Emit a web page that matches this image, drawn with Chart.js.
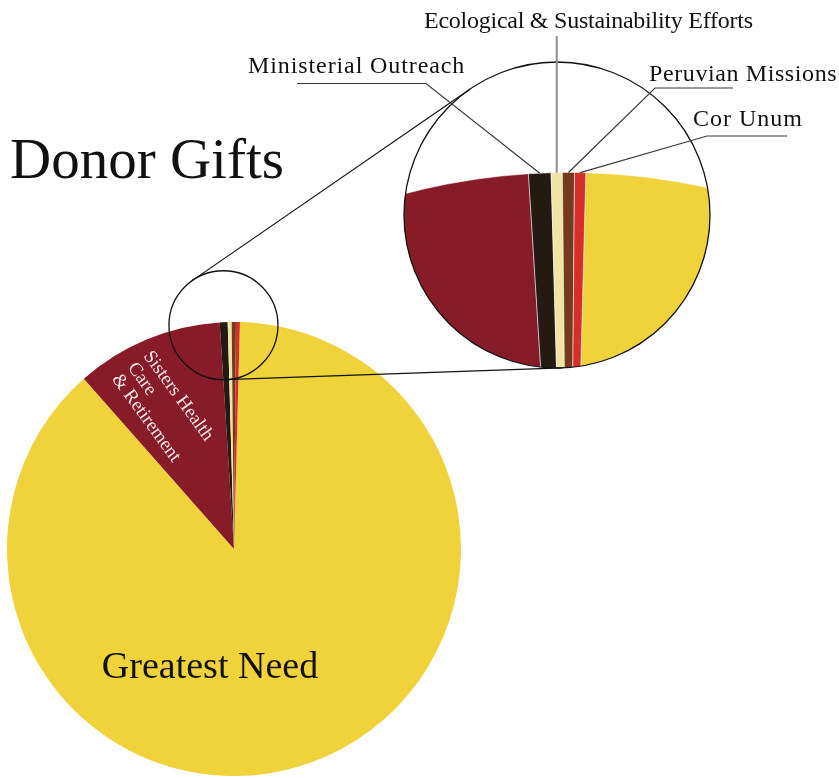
<!DOCTYPE html>
<html>
<head>
<meta charset="utf-8">
<script src="https://cdn.jsdelivr.net/npm/chart.js@4"></script>
<style>
  html, body { margin: 0; padding: 0; background: #fff; overflow: hidden; }
  #page { position: relative; width: 839px; height: 778px; overflow: hidden; }
  #mainChart { position: absolute; left: 0; top: 0; z-index: 2; }
  #zoomChart { position: absolute; left: -81px; top: 166px; z-index: 1;
               clip-path: circle(153px at 638px 49px); }
</style>
</head>
<body>
<div id="page">
  <canvas id="zoomChart" width="1300" height="1300"></canvas>
  <canvas id="mainChart" width="839" height="778"></canvas>
</div>
<script>
// share of donor gifts, in percent
const categories = ['Greatest Need', 'Sisters Health Care & Retirement', 'Ministerial Outreach',
                    'Ecological & Sustainability Efforts', 'Peruvian Missions', 'Cor Unum'];
const shares = [88.08, 10.5, 0.56, 0.28, 0.30, 0.28];
const colors = ['#F0D23B', '#871B28', '#231A12', '#F0E4A2', '#733A1B', '#D62F29'];
const startAngle = 1.5;

const serif = '"Liberation Serif", "DejaVu Serif", serif';

// magnified pie, seen through the round window
const zoomOffset = {x: -81, y: 166};
const zoomChart = new Chart(document.getElementById('zoomChart'), {
    type: 'pie',
    data: {
        labels: categories,
        datasets: [{data: shares, backgroundColor: colors, borderWidth: 1, borderColor: 'rgba(255,255,255,0.5)'}]
    },
    options: {
        responsive: false,
        animation: false,
        rotation: startAngle,
        layout: {padding: 6},
        plugins: {legend: {display: false}, tooltip: {enabled: false}}
    }
});

// window circles
const bigCircle = {x: 557, y: 215, r: 153};

// outer tangent points between two circles
function tangents(a, b) {
    const dx = b.x - a.x, dy = b.y - a.y;
    const d = Math.hypot(dx, dy);
    const base = Math.atan2(dy, dx);
    const off = Math.acos((a.r - b.r) / d);
    return [base - off, base + off].map(t => [
        [a.x + a.r * Math.cos(t), a.y + a.r * Math.sin(t)],
        [b.x + b.r * Math.cos(t), b.y + b.r * Math.sin(t)]
    ]);
}

function midPoint(arc) {
    const a = (arc.startAngle + arc.endAngle) / 2;
    return [arc.x + zoomOffset.x + Math.cos(a) * arc.outerRadius,
            arc.y + zoomOffset.y + Math.sin(a) * arc.outerRadius];
}

function polyline(ctx, pts, color, width) {
    ctx.beginPath();
    ctx.moveTo(pts[0][0], pts[0][1]);
    pts.slice(1).forEach(p => ctx.lineTo(p[0], p[1]));
    ctx.strokeStyle = color;
    ctx.lineWidth = width;
    ctx.stroke();
}

function label(ctx, text, x, y, spacing) {
    ctx.letterSpacing = spacing + 'px';
    ctx.fillText(text, x, y);
    ctx.letterSpacing = '0px';
}

const annotations = {
    id: 'annotations',
    afterDraw(chart) {
        const ctx = chart.ctx;
        const arc0 = chart.getDatasetMeta(0).data[0];
        const ang = (-90 - 2.7) * Math.PI / 180;
        const small = {x: arc0.x + Math.cos(ang) * (arc0.outerRadius - 3),
                       y: arc0.y + Math.sin(ang) * (arc0.outerRadius - 3), r: 54.5};
        const zarcs = zoomChart.getDatasetMeta(0).data;

        ctx.save();
        // circles and connecting lines
        ctx.beginPath();
        ctx.arc(small.x, small.y, small.r, 0, Math.PI * 2);
        ctx.strokeStyle = '#111';
        ctx.lineWidth = 1.3;
        ctx.stroke();
        ctx.beginPath();
        ctx.arc(bigCircle.x, bigCircle.y, bigCircle.r, 0, Math.PI * 2);
        ctx.stroke();
        tangents(small, bigCircle).forEach(seg => polyline(ctx, seg, '#111', 1.2));

        // leader lines
        polyline(ctx, [[297, 83.5], [426, 83.5], midPoint(zarcs[2])], '#3a3a3a', 1.2);
        const eco = midPoint(zarcs[3]);
        polyline(ctx, [[eco[0], 36], eco], '#8c8c8c', 2);
        polyline(ctx, [[733, 88], [655, 88], midPoint(zarcs[4])], '#3a3a3a', 1.2);
        polyline(ctx, [[787, 136], [707, 136], midPoint(zarcs[5])], '#3a3a3a', 1.2);

        // texts
        ctx.fillStyle = '#111';
        ctx.textBaseline = 'alphabetic';
        ctx.textAlign = 'left';
        ctx.font = '57px ' + serif;
        ctx.fillText('Donor Gifts', 10, 178);
        ctx.font = '24px ' + serif;
        label(ctx, 'Ministerial Outreach', 248, 73, 0.9);
        label(ctx, 'Peruvian Missions', 649, 81, 0.6);
        label(ctx, 'Cor Unum', 693, 126, 1);
        label(ctx, 'Ecological & Sustainability Efforts', 424, 28, -0.25);
        ctx.textAlign = 'center';
        ctx.font = '38px ' + serif;
        ctx.fillText('Greatest Need', 210, 678);

        ctx.translate(143, 356);
        ctx.rotate(54 * Math.PI / 180);
        ctx.textAlign = 'left';
        ctx.fillStyle = '#F4E6E6';
        ctx.font = '19px ' + serif;
        ['Sisters Health', 'Care', '& Retirement'].forEach((t, i) => ctx.fillText(t, 0, i * 19.5));
        ctx.restore();
    }
};

const mainChart = new Chart(document.getElementById('mainChart'), {
    type: 'pie',
    data: {
        labels: categories,
        datasets: [{data: shares, backgroundColor: colors, borderWidth: 0}]
    },
    options: {
        responsive: false,
        animation: false,
        rotation: startAngle,
        layout: {padding: {left: 7, top: 322, right: 378, bottom: 2}},
        plugins: {legend: {display: false}, tooltip: {enabled: false}}
    },
    plugins: [annotations]
});
</script>
</body>
</html>
